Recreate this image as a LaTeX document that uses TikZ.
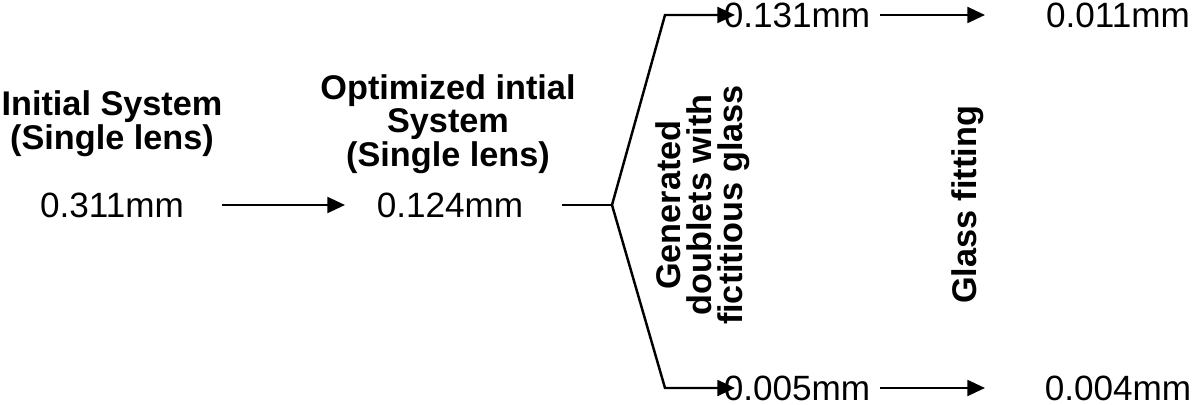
\documentclass[tikz,border=0pt]{standalone}
\usepackage{fontspec}
\setmainfont{Liberation Sans}
\usetikzlibrary{arrows.meta}
\begin{document}
\begin{tikzpicture}[x=0.02cm,y=-0.02cm,
    val/.style={font=\fontsize{20}{22}\selectfont, inner sep=1pt},
    ttl/.style={font=\bfseries\fontsize{19.5}{17.6}\selectfont, align=center},
    flow/.style={-{Triangle[length=10pt,width=9pt]}, line width=1.4pt}]
    \useasboundingbox (0,0) rectangle (1200,405);

    % Titles
    \node[ttl] (t1) at (112,124) {Initial System\\(Single lens)};
    \node[ttl] (t2) at (448,124) {Optimized intial\\System\\(Single lens)};

    % Values
    \node[val] (v1) at (112,205) {0.311mm};
    \node[val] (v2) at (450,205) {0.124mm};
    \node[val] (a1) at (797,15) {0.131mm};
    \node[val] (a2) at (1118,15) {0.011mm};
    \node[val] (b1) at (797,388) {0.005mm};
    \node[val] (b2) at (1118,388) {0.004mm};

    % Rotated labels
    \node[ttl, rotate=90] (gen) at (703,205) {Generated\\doublets with\\fictitious glass};
    \node[ttl, rotate=90] (fit) at (968,205) {Glass fitting};

    % Connectors
    \coordinate (s1) at (222,205);
    \coordinate (e1) at (345,205);
    \coordinate (br) at (612,205);
    \coordinate (up) at (665,15);
    \coordinate (dn) at (665,388);
    \draw[flow] (s1) -- (e1);
    \draw[line width=1.4pt] (562,205) -- (br);
    \draw[flow, line join=miter] (br) -- (up) -- (735,15);
    \draw[flow, line join=miter] (br) -- (dn) -- (735,388);
    \draw[flow] (880,15) -- (985,15);
    \draw[flow] (880,388) -- (985,388);
\end{tikzpicture}
\end{document}
